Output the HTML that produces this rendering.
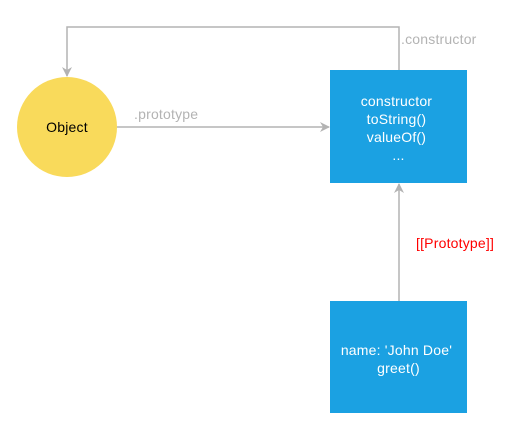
<!DOCTYPE html>
<html><head><meta charset="utf-8"><style>
html,body{margin:0;padding:0;background:#fff;}
svg{display:block;}
text{font-family:"Liberation Sans",sans-serif;font-size:14px;letter-spacing:0.2px;}
</style></head><body>
<svg width="514" height="445" viewBox="0 0 514 445" xmlns="http://www.w3.org/2000/svg">
<defs>
<marker id="a" markerWidth="10" markerHeight="10" refX="9" refY="5" orient="auto" markerUnits="userSpaceOnUse">
<path d="M0,0 L10,5 L0,10 L3,5 Z" fill="#b3b3b3"/>
</marker>
</defs>
<polyline points="399,70 399,27 67,27 67,76" fill="none" stroke="#b3b3b3" stroke-width="1.5" marker-end="url(#a)"/>
<line x1="117" y1="127" x2="329" y2="127" stroke="#b3b3b3" stroke-width="1.5" marker-end="url(#a)"/>
<line x1="399" y1="301" x2="399" y2="184" stroke="#b3b3b3" stroke-width="1.5" marker-end="url(#a)"/>
<circle cx="67" cy="127" r="50" fill="#f9da5b"/>
<text x="67" y="132" text-anchor="middle" fill="#000">Object</text>
<rect x="330" y="70" width="137" height="113" fill="#1ba1e2"/>
<text fill="#fff" text-anchor="middle">
<tspan x="398.5" y="106">constructor</tspan>
<tspan x="398.5" y="124">toString()</tspan>
<tspan x="398.5" y="142">valueOf()</tspan>
<tspan x="398.5" y="160">...</tspan>
</text>
<rect x="330" y="301" width="137" height="112" fill="#1ba1e2"/>
<text fill="#fff" text-anchor="middle">
<tspan x="398.5" y="355">name: 'John Doe'</tspan>
<tspan x="398.5" y="373">greet()</tspan>
</text>
<text x="134" y="119" fill="#b3b3b3">.prototype</text>
<text x="401" y="44" fill="#b3b3b3">.constructor</text>
<text x="416" y="248" fill="#ff0000">[[Prototype]]</text>
</svg>
</body></html>
